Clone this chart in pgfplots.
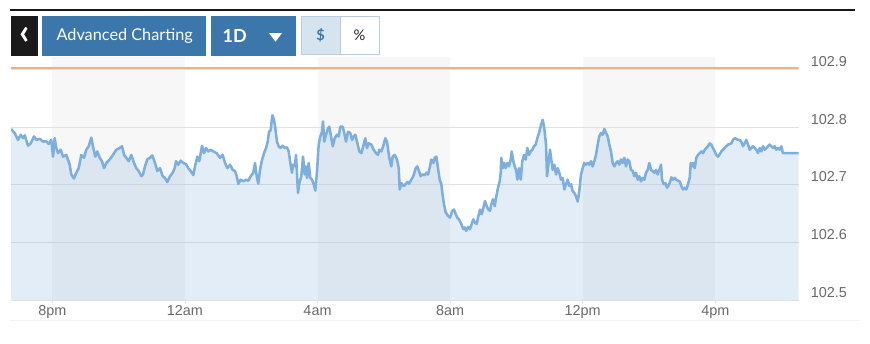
\documentclass[border=0pt]{standalone}
\usepackage{fontspec}
\setmainfont{Liberation Sans}
\newfontfamily\lato{Lato}
\usepackage{pgfplots}
\usepackage{pgfplotstable}
\pgfplotsset{compat=1.18}
\definecolor{btnblue}{RGB}{59,119,170}
\definecolor{linec}{RGB}{124,174,222}
\definecolor{bandc}{RGB}{247,247,247}
\definecolor{gridc}{RGB}{225,225,225}
\definecolor{orangec}{RGB}{230,180,140}
\definecolor{tickc}{RGB}{105,105,105}
\definecolor{dollbg}{RGB}{214,228,240}
\definecolor{dollbd}{RGB}{184,205,224}

\pgfplotstableread{
h v
18.756 102.797
18.866 102.790
18.965 102.778
19.047 102.787
19.116 102.781
19.167 102.786
19.267 102.768
19.348 102.772
19.448 102.784
19.517 102.778
19.620 102.780
19.719 102.775
19.819 102.776
19.891 102.771
19.970 102.778
20.021 102.749
20.072 102.781
20.121 102.764
20.172 102.755
20.253 102.761
20.323 102.749
20.422 102.752
20.525 102.735
20.573 102.718
20.654 102.711
20.724 102.721
20.796 102.729
20.875 102.752
20.956 102.747
21.026 102.761
21.098 102.767
21.176 102.782
21.237 102.764
21.297 102.749
21.357 102.758
21.430 102.747
21.499 102.741
21.559 102.729
21.629 102.738
21.731 102.744
21.831 102.752
21.931 102.761
22.033 102.764
22.103 102.767
22.163 102.752
22.232 102.747
22.305 102.741
22.383 102.752
22.465 102.738
22.534 102.729
22.606 102.724
22.685 102.715
22.736 102.718
22.796 102.732
22.866 102.744
22.947 102.747
23.017 102.751
23.098 102.738
23.167 102.724
23.249 102.729
23.330 102.715
23.400 102.712
23.469 102.705
23.551 102.715
23.632 102.721
23.692 102.729
23.731 102.741
23.801 102.735
23.873 102.742
23.952 102.738
24.033 102.736
24.102 102.729
24.175 102.724
24.253 102.717
24.305 102.732
24.374 102.749
24.434 102.741
24.516 102.768
24.576 102.755
24.637 102.764
24.706 102.758
24.778 102.761
24.857 102.758
24.959 102.755
25.059 102.747
25.140 102.752
25.210 102.738
25.279 102.729
25.361 102.735
25.442 102.726
25.511 102.724
25.563 102.715
25.611 102.702
25.683 102.709
25.762 102.706
25.843 102.709
25.913 102.707
25.985 102.715
26.063 102.721
26.115 102.738
26.166 102.715
26.214 102.702
26.266 102.726
26.317 102.741
26.386 102.755
26.447 102.764
26.498 102.775
26.537 102.792
26.588 102.795
26.637 102.821
26.688 102.813
26.727 102.798
26.778 102.775
26.829 102.767
26.878 102.764
26.950 102.768
27.011 102.764
27.080 102.765
27.131 102.758
27.180 102.738
27.231 102.721
27.261 102.735
27.313 102.732
27.352 102.752
27.382 102.718
27.412 102.686
27.451 102.703
27.512 102.715
27.563 102.749
27.614 102.718
27.653 102.732
27.683 102.712
27.735 102.738
27.783 102.712
27.834 102.709
27.885 102.701
27.934 102.690
27.985 102.724
28.036 102.770
28.084 102.784
28.136 102.792
28.166 102.810
28.205 102.775
28.256 102.787
28.317 102.798
28.356 102.801
28.407 102.784
28.459 102.767
28.519 102.781
28.588 102.787
28.639 102.784
28.688 102.801
28.760 102.801
28.820 102.787
28.860 102.775
28.920 102.792
28.990 102.790
29.041 102.778
29.092 102.784
29.140 102.787
29.192 102.775
29.261 102.758
29.322 102.755
29.394 102.770
29.442 102.781
29.493 102.764
29.545 102.772
29.623 102.770
29.695 102.761
29.765 102.755
29.825 102.752
29.864 102.761
29.925 102.758
29.997 102.770
30.045 102.781
30.096 102.775
30.166 102.747
30.226 102.732
30.268 102.749
30.329 102.752
30.398 102.744
30.450 102.729
30.480 102.692
30.528 102.703
30.601 102.698
30.670 102.702
30.709 102.705
30.761 102.702
30.830 102.709
30.890 102.715
30.963 102.729
31.011 102.732
31.062 102.724
31.113 102.715
31.162 102.718
31.234 102.717
31.294 102.721
31.334 102.718
31.394 102.732
31.433 102.744
31.493 102.738
31.535 102.747
31.584 102.749
31.635 102.729
31.686 102.709
31.735 102.701
31.765 102.686
31.816 102.666
31.868 102.652
31.937 102.646
31.997 102.643
32.067 102.655
32.118 102.657
32.169 102.649
32.218 102.643
32.268 102.640
32.338 102.632
32.398 102.623
32.440 102.626
32.489 102.620
32.540 102.627
32.601 102.623
32.652 102.632
32.700 102.640
32.742 102.635
32.803 102.632
32.842 102.643
32.902 102.657
32.954 102.649
33.002 102.660
33.053 102.672
33.105 102.663
33.153 102.657
33.204 102.655
33.243 102.666
33.294 102.675
33.346 102.663
33.394 102.680
33.445 102.695
33.497 102.706
33.527 102.721
33.545 102.747
33.587 102.729
33.626 102.738
33.677 102.729
33.726 102.738
33.777 102.732
33.828 102.744
33.858 102.758
33.907 102.741
33.949 102.732
33.997 102.724
34.027 102.709
34.079 102.729
34.130 102.709
34.178 102.741
34.229 102.752
34.281 102.744
34.329 102.764
34.380 102.752
34.432 102.758
34.480 102.761
34.531 102.767
34.583 102.770
34.631 102.781
34.682 102.790
34.742 102.804
34.794 102.813
34.842 102.798
34.893 102.770
34.923 102.715
34.975 102.741
35.014 102.761
35.044 102.747
35.095 102.726
35.144 102.735
35.195 102.718
35.246 102.729
35.294 102.721
35.345 102.709
35.397 102.712
35.445 102.692
35.496 102.701
35.548 102.709
35.596 102.698
35.647 102.701
35.698 102.689
35.747 102.686
35.798 102.680
35.849 102.671
35.897 102.689
35.949 102.718
36.000 102.729
36.048 102.738
36.099 102.735
36.151 102.738
36.199 102.735
36.250 102.741
36.301 102.732
36.350 102.741
36.401 102.752
36.452 102.770
36.500 102.784
36.552 102.790
36.603 102.787
36.651 102.797
36.702 102.790
36.754 102.784
36.802 102.770
36.853 102.758
36.904 102.738
36.953 102.732
37.004 102.738
37.055 102.741
37.104 102.735
37.155 102.744
37.206 102.738
37.255 102.747
37.306 102.732
37.357 102.744
37.406 102.741
37.457 102.726
37.508 102.724
37.557 102.715
37.608 102.721
37.659 102.709
37.708 102.715
37.759 102.706
37.810 102.712
37.859 102.709
37.910 102.721
37.961 102.726
38.010 102.738
38.061 102.726
38.112 102.724
38.161 102.721
38.212 102.726
38.263 102.718
38.311 102.726
38.363 102.735
38.393 102.709
38.444 102.701
38.492 102.703
38.544 102.695
38.625 102.703
38.673 102.713
38.724 102.709
38.776 102.712
38.824 102.709
38.875 102.707
38.927 102.706
38.975 102.698
39.026 102.692
39.078 102.695
39.126 102.692
39.177 102.701
39.228 102.712
39.258 102.738
39.298 102.732
39.328 102.738
39.379 102.729
39.427 102.747
39.478 102.752
39.530 102.755
39.578 102.758
39.629 102.755
39.681 102.761
39.729 102.764
39.780 102.767
39.831 102.772
39.880 102.770
39.931 102.764
39.982 102.758
40.031 102.752
40.082 102.749
40.133 102.753
40.181 102.758
40.233 102.761
40.284 102.764
40.332 102.767
40.383 102.770
40.434 102.771
40.483 102.772
40.534 102.778
40.585 102.781
40.634 102.780
40.685 102.778
40.736 102.778
40.785 102.775
40.836 102.767
40.887 102.772
40.936 102.778
40.987 102.770
41.038 102.761
41.086 102.764
41.138 102.767
41.189 102.764
41.237 102.761
41.288 102.755
41.340 102.764
41.388 102.758
41.439 102.767
41.490 102.761
41.539 102.764
41.590 102.767
41.641 102.770
41.690 102.767
41.741 102.764
41.792 102.767
41.840 102.761
41.892 102.764
41.943 102.761
41.991 102.767
42.043 102.755
42.094 102.755
42.510 102.755
}\series

\begin{document}
\begin{tikzpicture}
\path (0pt,0pt) rectangle (652.5pt,-257.25pt);
\begin{scope}[x=0.75pt,y=-0.75pt]
\draw[line width=1.5pt,color={rgb,255:red,25;green,25;blue,25}] (10,10) -- (855,10);
\draw[line width=0.6pt,color={rgb,255:red,242;green,242;blue,242}] (10,320.5) -- (860,320.5);
\end{scope}

\begin{axis}[
  at={(8.25pt,-225pt)}, anchor=south west,
  scale only axis, width=590.625pt, height=182.25pt,
  xmin=18.754, xmax=42.51, ymin=102.5, ymax=102.922,
  set layers,
  axis line style={draw=none},
  xtick={20,24,28,32,36,40},
  xticklabels={8pm,12am,4am,8am,12pm,4pm},
  xtick pos=left, tick align=outside,
  major tick length=2.6pt,
  x tick style={gridc, line width=0.6pt},
  xticklabel style={font=\fontsize{10.8}{12}\selectfont, text=tickc, anchor=north, yshift=2pt},
  ytick={102.5,102.6,102.7,102.8,102.9},
  yticklabels={102.5,102.6,102.7,102.8,102.9},
  yticklabel pos=right,
  y tick style={draw=none},
  yticklabel style={font=\fontsize{10.8}{12}\selectfont, text=tickc, anchor=base west, xshift=3.2pt, yshift=2.2pt},
  ymajorgrids, major grid style={gridc, line width=0.75pt},
]
\addplot[fill=bandc, draw=none, on layer=axis background] coordinates {(20,102.5) (20,102.922) (24,102.922) (24,102.5)} -- cycle;
\addplot[fill=bandc, draw=none, on layer=axis background] coordinates {(28,102.5) (28,102.922) (32,102.922) (32,102.5)} -- cycle;
\addplot[fill=bandc, draw=none, on layer=axis background] coordinates {(36,102.5) (36,102.922) (40,102.922) (40,102.5)} -- cycle;
\addplot[draw=none, fill=linec, fill opacity=0.22] table[x=h,y=v] {\series} \closedcycle;
\addplot[draw=orangec, line width=1pt] coordinates {(18.754,102.903) (42.51,102.903)};
\addplot[draw=linec, line width=1.9pt, line join=round] table[x=h,y=v] {\series};
\end{axis}

\begin{scope}[x=0.75pt,y=-0.75pt]
\fill[color={rgb,255:red,26;green,26;blue,26}] (11,16) rectangle (37.7,55.5);
\node[text=white, font=\lato\bfseries\fontsize{27}{27}\selectfont, inner sep=0pt] at (25,36.3) {‹};
\fill[btnblue] (42.3,16) rectangle (206,55.5);
\node[text=white, font=\lato\fontsize{12.2}{12.2}\selectfont] at (124.7,36) {Advanced Charting};
\fill[btnblue] (211,16) rectangle (296,55.5);
\node[text=white, font=\lato\bfseries\fontsize{13.5}{13.5}\selectfont, inner sep=0pt] at (234.7,36) {1D};
\fill[white] (269,33) -- (282,33) -- (275.5,41.7) -- cycle;
\filldraw[fill=dollbg, draw=dollbd, line width=0.75pt] (301.5,16.5) rectangle (340,54.5);
\filldraw[fill=white, draw=dollbd, line width=0.75pt] (340,16.5) rectangle (379.5,54.5);
\node[text=btnblue, font=\lato\bfseries\fontsize{11}{11}\selectfont] at (320.5,35.7) {\$};
\node[text={rgb,255:red,40;green,40;blue,40}, font=\lato\fontsize{11}{11}\selectfont] at (359.5,35.7) {\%};
\end{scope}
\end{tikzpicture}
\end{document}
